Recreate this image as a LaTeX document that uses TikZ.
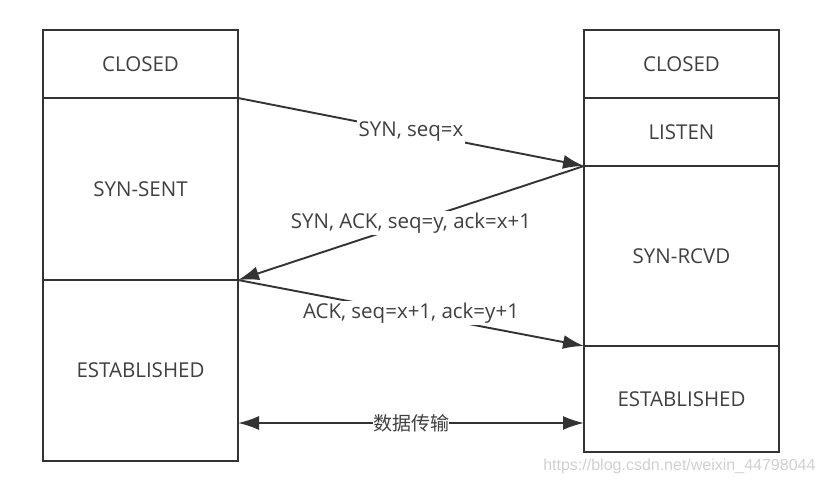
\documentclass[tikz,border=0pt]{standalone}
\usepackage{fontspec}
\setmainfont{Open Sans}
\newfontfamily\cjk{Noto Sans CJK SC}
\newfontfamily\markfont{Liberation Sans}
\usetikzlibrary{arrows.meta}

\tikzset{
  state/.style={draw=black!80,line width=1.9pt,minimum width=195pt,inner sep=0pt,outer sep=0pt,font=\fontsize{20.5}{23}\selectfont,text=black!75},
  msg/.style={draw=black!80,line width=1.9pt,-{Latex[length=21pt,width=14pt]}},
  msglabel/.style={fill=white,inner sep=2pt,font=\fontsize{20.5}{23}\selectfont,text=black!75}
}

\begin{document}
\begin{tikzpicture}[x=1pt,y=-1pt]
      \useasboundingbox[fill=white](0,0) rectangle (826,484);
      % client side
      \node[state,minimum height=68pt,anchor=north west] (lclosed) at (43,30) {CLOSED};
      \node[state,minimum height=182pt,anchor=north] (lsent) at (lclosed.south) {SYN-SENT};
      \node[state,minimum height=181pt,anchor=north] (lest) at (lsent.south) {ESTABLISHED};
      % server side
      \node[state,minimum height=68pt,anchor=north west] (rclosed) at (584,30) {CLOSED};
      \node[state,minimum height=68pt,anchor=north] (rlisten) at (rclosed.south) {LISTEN};
      \node[state,minimum height=180pt,anchor=north] (rrcvd) at (rlisten.south) {SYN-RCVD};
      \node[state,minimum height=106pt,anchor=north] (rest) at (rrcvd.south) {ESTABLISHED};

      % handshake
      \draw[msg](lclosed.south east)--(rlisten.south west)node[msglabel,midway]{SYN, seq=x};
      \draw[msg](rlisten.south west)--(lsent.south east)node[msglabel,midway]{SYN, ACK, seq=y, ack=x+1};
      \draw[msg](lsent.south east)--(rrcvd.south west)node[msglabel,midway]{ACK, seq=x+1, ack=y+1};

      % data
      \coordinate (dl) at (238,423);
      \coordinate (dr) at (584,423);
      \draw[msg,{Latex[length=21pt,width=14pt]}-{Latex[length=21pt,width=14pt]}](dl)--(dr)node[msglabel,midway,inner sep=0pt,font=\cjk\fontsize{19}{22}\selectfont]{数据传输};

      \node[font=\markfont\fontsize{16}{18}\selectfont,text=black!18,anchor=east] (mark) at (819,466) {https://blog.csdn.net/weixin\_44798044};
\end{tikzpicture}
\end{document}
